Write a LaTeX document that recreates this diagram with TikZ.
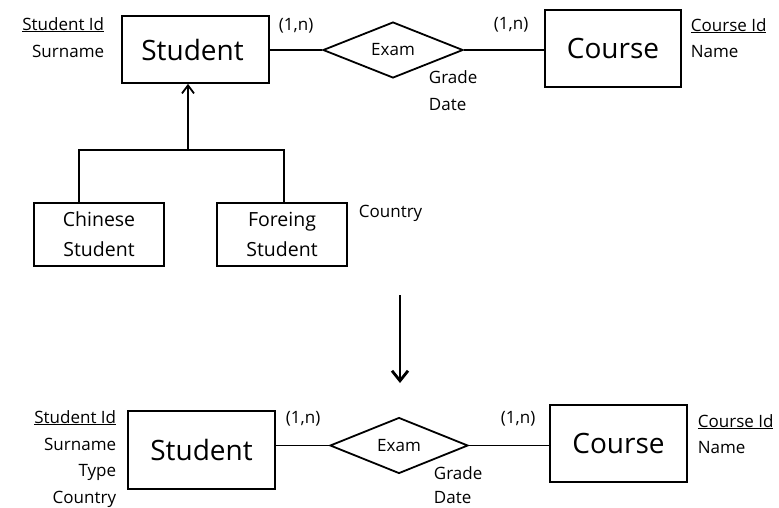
\documentclass[tikz,border=0pt]{standalone}
\usepackage{fontspec}
\setmainfont{Open Sans}
\usetikzlibrary{arrows.meta,shapes.geometric}
\begin{document}
\begin{tikzpicture}[x=1pt,y=-1pt,
  line width=1.8pt,
  entity/.style={draw,rectangle,inner sep=0pt,font=\fontsize{28}{30}\selectfont},
  subentity/.style={draw,rectangle,inner sep=0pt,align=center,font=\fontsize{19.5}{30}\selectfont},
  relation/.style={draw,diamond,inner sep=0pt,font=\fontsize{17}{18}\selectfont},
  attr/.style={inner sep=0pt,font=\fontsize{17}{18}\selectfont},
  card/.style={inner sep=0pt,font=\fontsize{17}{18}\selectfont},
  isa/.style={-{Straight Barb[length=8pt,width=12pt]}},
  transform/.style={line width=2.8pt,-{Straight Barb[length=10pt,width=16pt]}}]
\useasboundingbox (0,0) rectangle (779,507);

% ---- original schema with generalisation ----
\node[entity,minimum width=147pt,minimum height=67pt] (stud) at (195.5,49.5) {\hspace*{-6pt}Student};
\node[relation,minimum width=140pt,minimum height=50pt] (exam) at (393,50) {\raisebox{-3pt}{Exam}};
\node[entity,minimum width=136pt,minimum height=77pt] (course) at (613,48.5) {Course};
\draw (stud.east |- exam.west) -- (exam.west);
\draw (exam.east) -- (course.west |- exam.east);

\node[card,anchor=base west] (c1) at (278,30) {(1,n)};
\node[card,anchor=base west] (c2) at (493,29) {(1,n)};
\node[attr,anchor=base east] (sid) at (105,30) {\underline{Student Id}};
\node[attr,anchor=base east] (ssur) at (105,57) {Surname};
\node[attr,anchor=base west] (cid) at (690,31) {\underline{Course Id}};
\node[attr,anchor=base west] (cname) at (690,57) {Name};
\node[attr,anchor=base west] (grade) at (428,83) {Grade};
\node[attr,anchor=base west] (date) at (428,110) {Date};

\node[subentity,minimum width=130pt,minimum height=63pt] (chin) at (99,234.5) {Chinese\\Student};
\node[subentity,minimum width=130pt,minimum height=63pt] (forg) at (282,234.5) {Foreing\\Student};
\node[attr,anchor=base west] (country) at (358,217) {Country};

\coordinate (hub) at (188,150);
\draw (chin.north -| 79,0) |- (hub) -| (forg.north -| 284,0);
\draw[isa] (hub) -- (hub |- stud.south);

% ---- restructuring step ----
\coordinate (tstart) at (400,295);
\coordinate (tend) at (400,383);
\draw[transform] (tstart) -- (tend);

% ---- restructured schema ----
\node[entity,minimum width=147pt,minimum height=78pt] (stud2) at (201.5,450) {Student};
\node[relation,minimum width=138pt,minimum height=51pt] (exam2) at (399,445.5) {\raisebox{-3pt}{Exam}};
\node[entity,minimum width=137pt,minimum height=77pt] (course2) at (618.5,443.5) {Course};
\draw (stud2.east |- exam2.west) -- (exam2.west);
\draw (exam2.east) -- (course2.west |- exam2.east);

\node[card,anchor=base west] (c3) at (285,423) {(1,n)};
\node[card,anchor=base west] (c4) at (500,423) {(1,n)};
\node[attr,anchor=base east] (sid2) at (117,423) {\underline{Student Id}};
\node[attr,anchor=base east] (ssur2) at (117,450) {Surname};
\node[attr,anchor=base east] (stype2) at (117,476) {Type};
\node[attr,anchor=base east] (scty2) at (117,503) {Country};
\node[attr,anchor=base west] (cid2) at (697,427) {\underline{Course Id}};
\node[attr,anchor=base west] (cname2) at (697,453) {Name};
\node[attr,anchor=base west] (grade2) at (433,479) {Grade};
\node[attr,anchor=base west] (date2) at (433,503) {Date};
\end{tikzpicture}
\end{document}
